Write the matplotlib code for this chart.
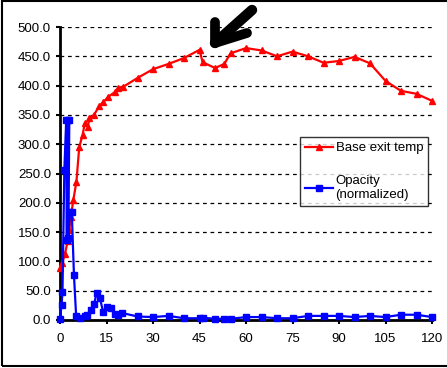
import matplotlib.pyplot as plt
from matplotlib.patches import Rectangle

# Base exit temp (red triangles)
temp_t = [0, 0.8, 1.6, 2.5, 3.0, 3.5, 4.3, 5.3, 6.2, 7.3, 8.0, 9.0, 9.5, 11.0,
          12.6, 14.0, 15.6, 17.7, 18.8, 20.4, 25, 30, 35, 40, 45, 46, 50, 53,
          55, 60, 65, 70, 75, 80, 85, 90, 95, 100, 105, 110, 115, 120]
temp = [88, 98, 113, 135, 154, 176, 205, 236, 295, 316, 336, 330, 345, 350,
        365, 372, 381, 389, 396, 398, 413, 428, 437, 447, 461, 440, 430, 437,
        455, 464, 460, 450, 458, 450, 439, 442, 449, 438, 408, 391, 386, 374]

# Opacity, normalized (blue squares)
opac_t = [0, 0.5, 0.8, 1.4, 2.0, 2.2, 2.5, 3.0, 2.7, 3.2, 3.8, 4.5, 5.2, 6.5,
          8.0, 8.7, 10.0, 11.0, 11.8, 12.9, 13.9, 15.0, 16.5, 17.7, 18.8, 20.0,
          25, 30, 35, 40, 45, 46, 50, 53, 55, 60, 65, 70, 75, 80, 85, 90, 95,
          100, 105, 110, 115, 120]
opac = [2, 25, 48, 256, 341, 137, 341, 341, 140, 184, 184, 77, 7, 3,
        7, 9, 17, 27, 46, 37, 14, 22, 20, 10, 9, 12,
        6, 5, 7, 3, 3, 4, 2, 2, 2, 5, 5, 3, 3, 7, 7, 7, 5,
        7, 5, 9, 9, 5]

yticks = [0, 50, 100, 150, 200, 250, 300, 350, 400, 450, 500]
xticks = [0, 15, 30, 45, 60, 75, 90, 105, 120]

plt.rcParams['font.family'] = ['Liberation Sans', 'DejaVu Sans']

fig = plt.figure(figsize=(4.47, 3.68), dpi=100, facecolor='white')
ax = fig.add_axes([60 / 447, 48 / 368, 372 / 447, 293 / 368])

ax.plot(temp_t, temp, color='#ff0000', lw=1.6, marker='^', ms=5,
        label='Base exit temp', zorder=3, clip_on=False)
ax.plot(opac_t, opac, color='#0000ff', lw=1.6, marker='s', ms=4.5,
        label='Opacity\n(normalized)', zorder=3, clip_on=False)

ax.set_xlim(0, 120)
ax.set_ylim(0, 500)
ax.set_xticks(xticks)
ax.set_yticks(yticks)
ax.set_yticklabels([f'{v:.1f}' for v in yticks])
ax.tick_params(axis='both', direction='out', length=3, width=1.5,
               labelsize=9.5, color='black', pad=3.5)
ax.tick_params(axis='x', pad=6)

for v in yticks[1:]:
    ax.axhline(v, color='black', lw=0.9, ls=(0, (3, 3)), zorder=1)

for s in ['top', 'right']:
    ax.spines[s].set_visible(False)
for s in ['left', 'bottom']:
    ax.spines[s].set_linewidth(2)
    ax.spines[s].set_color('black')

leg = ax.legend(loc='upper left', bbox_to_anchor=(0.645, 0.625), borderaxespad=0,
                fontsize=9.5, frameon=True, fancybox=False, labelspacing=1.55,
                handlelength=2.1, handletextpad=0.2, borderpad=0.4)
leg.get_frame().set_edgecolor('black')
leg.get_frame().set_linewidth(1)

# hand-drawn arrow (axes fraction coordinates)
tip = (155 / 372, 277 / 293)
ax.plot([155 / 372, tip[0], 187 / 372], [298 / 293, tip[1], 287 / 293],
        transform=ax.transAxes, color='black', lw=7, clip_on=False,
        solid_capstyle='round', solid_joinstyle='round', zorder=5)
ax.plot([tip[0], 192 / 372], [tip[1], 310 / 293],
        transform=ax.transAxes, color='black', lw=7.5, clip_on=False,
        solid_capstyle='round', zorder=5)

# outer frame
fig.add_artist(Rectangle((1.5 / 447, 2.5 / 368), 1.2, 1 - 3 / 368,
                         transform=fig.transFigure, fill=False,
                         edgecolor='black', lw=1.5, clip_on=False))

fig.savefig('out.png', dpi=100, facecolor='white')
